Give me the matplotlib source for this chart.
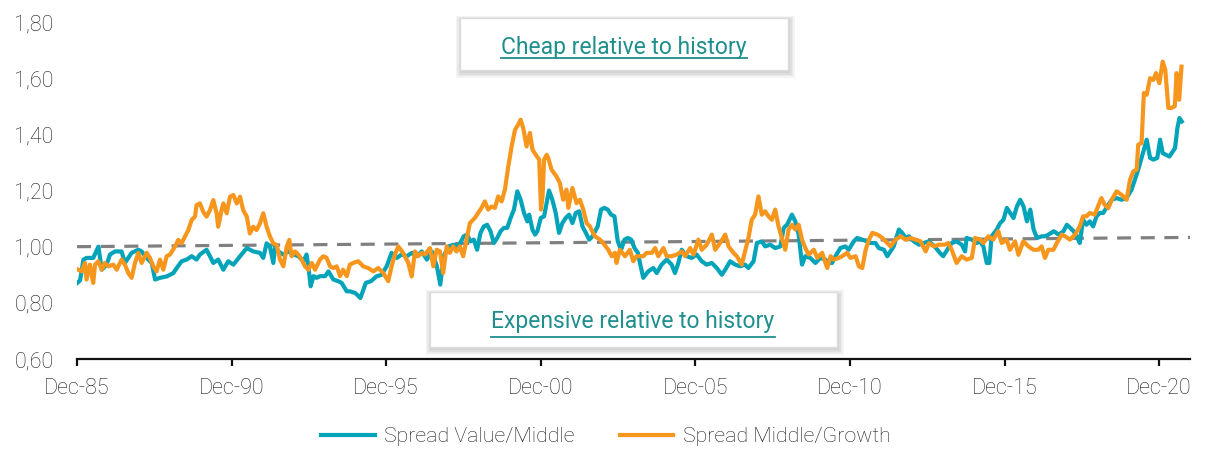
import matplotlib
matplotlib.use("Agg")
import matplotlib.pyplot as plt
from matplotlib.patches import Rectangle
from matplotlib.lines import Line2D
from matplotlib import font_manager

# ---------------- data (months since Dec-85, ratio values) ----------------
value_middle_month = [
    0, 1.2, 2.5, 3.7, 6.3, 8.3, 9.6, 11.5, 12.8, 14.7, 17.3, 18.6, 19.9, 21.2, 23.8, 25.1, 27, 29, 30.3, 32.2,
    34.8, 37.4, 38.7, 40.6, 42.6, 44.5, 46.4, 47.7, 50.3, 51.6, 52.9, 54.8, 56.8, 58.7, 60.7, 63.3, 65.9, 68.4, 71,
    72.3, 73.6, 74.9, 76.2, 76.9, 78.1, 80.1, 82, 84, 85.9, 87.9, 89.1, 89.8, 90.7, 91.8, 93, 94.3, 96.3, 97.6,
    99.5, 101.4, 102.7, 104.7,
    105.9, 108, 110, 112.1, 114.1, 116.2, 118.2, 120.2, 122.1, 124.1, 126, 128, 130, 131.9, 133.8, 135.8, 137.7,
    139.7, 141, 142.3, 144.2, 146.2, 148.1, 150.1, 151.4, 152.7, 154, 155.3, 156.6, 157.9, 159.2, 160.5, 161.8,
    163.1, 164.4, 165.7, 167, 168.3, 169.6, 170.9, 172.2, 173.5, 174.8, 175.5, 176.8, 177.8, 178.7, 180, 181.3,
    183.2, 184.5, 185.8, 187.1, 188.4, 189.7, 191, 192.3, 193.6, 194.9, 196.2, 197.5, 198.8, 200.1, 202.1, 203.4,
    204.7, 206, 207.3, 208.6, 209.9, 211.2, 212.5, 213.8, 215.1, 216.4, 217.7,
    218.5, 219.8, 221.7, 223.7, 225, 226.9, 228.9, 230.8, 232.1, 233.4, 234.7, 236.6, 238.6, 240.5, 242.5, 244.4,
    246.4, 248.3, 250.3, 251.6, 253.5, 255.5, 257.4, 259.3, 260.6, 262.6, 263.9, 265.8, 267.1, 269.1, 271, 273,
    274.3, 275.6, 277.5, 278.8, 280.1, 281.4, 282.7, 284.6, 286.6, 288.5, 290.5, 291.8, 293.1, 294.4, 296.3, 298.2,
    299.5, 301.5, 302.8, 304.7, 306.7, 308, 309.9, 311.2, 313.2, 314.5, 315.7, 317, 319, 320.3, 321.6, 322.9,
    324.8, 326.8, 328.7, 330.6,
    332.9, 334.9, 336.2, 338.2, 339.5, 341.4, 343.4, 344.7, 345.3, 347.3, 349.2, 350.5, 351.8, 353.1, 354.1, 355,
    357, 358.3, 359.6, 360.9, 362.2, 363.5, 364.8, 366.1, 367.4, 368.7, 370, 371.3, 372.6, 374.5, 375.8, 377.1,
    379.1, 381, 382.9, 384.2, 385.5, 386.8, 388.1, 389.2,
    390.5, 391.8, 393.1, 394.4, 395.7, 397, 398.3, 400.3, 401.6, 403.5, 405.4, 407.4, 409.3, 410.6, 411.9, 413.9,
    415.2, 416.5, 417.8, 419.3, 420.4, 421.4, 422.7, 424, 425.3, 426.2, 427.1, 427.9, 428.8,
]
value_middle = [
    0.87, 0.88, 0.954, 0.96, 0.96, 1.0, 0.918, 0.936, 0.972, 0.983, 0.983, 0.942, 0.96, 0.978, 0.989, 0.983, 0.96,
    0.942, 0.883, 0.889, 0.894, 0.906, 0.924, 0.948, 0.954, 0.966, 0.954, 0.972, 0.989, 0.966, 0.942, 0.954, 0.918,
    0.948, 0.936, 0.966, 0.995, 0.983, 0.978,
    0.96, 1.012, 1.0, 0.942, 1.0, 0.983, 0.972, 0.983, 0.972, 0.966, 0.948, 0.972, 0.93, 0.859, 0.895, 0.889,
    0.895, 0.895, 0.912, 0.883, 0.877, 0.871, 0.841,
    0.841, 0.835, 0.817, 0.871, 0.877, 0.894, 0.9, 0.93, 0.978, 0.96, 0.972, 0.966, 0.978, 0.966, 0.983, 0.954,
    0.983, 0.93, 0.865, 0.966, 1.001, 1.007, 1.001, 1.037, 1.043, 1.019, 1.025, 0.989, 1.049, 1.072, 1.078, 1.055,
    1.013, 1.031, 1.055, 1.067, 1.067, 1.102, 1.132, 1.197, 1.167, 1.12, 1.09, 1.114, 1.06, 1.043, 1.055, 1.102,
    1.108, 1.2, 1.167, 1.12, 1.049, 1.084, 1.102, 1.114, 1.084, 1.12, 1.126, 1.072, 1.049, 1.025, 1.037, 1.072,
    1.132, 1.138, 1.132, 1.114, 1.108, 1.019, 0.989, 1.025, 1.031, 1.025, 0.995, 0.978,
    0.942, 0.889, 0.912, 0.924, 0.906, 0.936, 0.954, 0.936, 0.906, 0.942, 0.989, 0.966, 0.96, 0.972, 0.948, 0.936,
    0.942, 0.924, 0.9, 0.918, 0.948, 0.936, 0.93, 0.936, 0.924, 0.948, 1.013, 1.019, 1.001, 1.007, 0.995, 1.001,
    1.067, 1.078, 1.114, 1.09, 1.043, 0.936, 0.966, 0.96, 0.942, 0.96, 0.954, 0.942, 0.942, 0.966, 0.995, 1.001,
    0.989, 1.019, 1.031, 1.025, 1.019, 1.013, 1.013, 0.995, 0.989, 0.966, 0.983, 1.001, 1.061, 1.049, 1.031, 1.037,
    1.019, 1.007, 1.013, 1.019,
    1.001, 0.978, 0.966, 0.995, 1.013, 1.019, 1.007, 0.983, 1.031, 1.025, 1.013, 1.019, 1.001, 0.942, 0.942, 1.037,
    1.061, 1.084, 1.096, 1.138, 1.12, 1.102, 1.143, 1.167, 1.143, 1.09, 1.132, 1.061, 1.031, 1.037, 1.037, 1.043,
    1.055, 1.043, 1.055, 1.078, 1.067, 1.055, 1.037, 1.013,
    1.096, 1.078, 1.09, 1.072, 1.108, 1.12, 1.12, 1.149, 1.167, 1.173, 1.167, 1.173, 1.203, 1.238, 1.274, 1.339,
    1.381, 1.316, 1.31, 1.316, 1.381, 1.333, 1.327, 1.321, 1.339, 1.351, 1.422, 1.458, 1.446,
]

middle_growth_month = [
    0.5, 1.8, 3.1, 3.7, 5, 6.3, 7, 8.3, 9.6, 10.8, 12.2, 14.1, 15.4, 17.3, 18.6, 19.9, 21.2, 22.5, 23.8, 25.1, 27,
    28.3, 29.6, 30.9, 32.2, 33.5, 34.8, 36.1, 38, 39.3, 40.6, 41.9, 43.2, 44.5, 45.8, 46.4, 47.7, 49, 50.3, 51.6,
    52.9, 54.2, 54.8, 56.1, 56.8, 58.1, 59.4, 60.7, 62, 63.3, 64.5, 65.9, 67.1, 68.4, 69.7, 71,
    72.3, 73.6, 74.9, 76.2, 77.5, 78.8, 80.1, 81.4, 82.4, 83.3, 84.6, 85.9, 87.2, 88.5, 89.8, 91.1, 92.4, 94.3,
    95.6, 96.9, 98.2, 99.5, 100.8, 102.1, 103.3, 104.7,
    105.9, 107.2, 109.2, 111.1, 113, 115, 116.9, 118.9, 120.8, 122.1, 123.4, 124.7, 126.6, 128.6, 129.9, 131.2,
    132.4, 133.8, 135, 137, 138.3, 139.6, 140.9,
    142.1, 143.5, 144.7, 146, 147.3, 148.6, 149.9, 151.2, 152.5, 154.4, 155.7, 157, 158.3, 159.6, 160.9, 162.2,
    163.5, 164.8, 166.1, 167.4, 168.7, 170, 171.2, 172.2, 173.2, 174.5, 175.8, 176.8, 178.1, 179.4, 180.1, 180.7,
    181.3, 182.3, 182.9, 184.2, 186.1, 187.4, 188.7, 190, 190.7, 192.3, 193.9, 195.2, 196.5, 197.8, 199.1, 201,
    203, 204.2, 206.2, 207.5, 208.8, 209.4, 210.7, 212.7, 214.6, 215.9, 217.2,
    219.8, 221.1, 223.1, 224.4, 225.6, 227.6, 228.9, 230.8, 232.8, 234.7, 236, 238, 239.3, 241.2, 242.5, 244.4,
    246.4, 247.7, 249.6, 251.6, 252.9, 254.8, 256.1, 258, 259.3, 260.6, 261.9, 263.2, 264.5, 265.8, 267.1, 268.4,
    269.7, 271, 272.3, 273.6, 274.9, 276.2, 277.5, 278.8, 280.1, 281.4, 282.7, 284, 286, 287.3, 289.2, 291.2,
    292.5, 293.8, 295.7, 297, 298.9, 300.2, 302.2, 303.5, 304.8, 306.1, 307.4, 308.7, 310.7, 312.6, 314.5, 315.8,
    317.7, 319.7, 321.6, 323.5, 325.5, 327.4, 329.4, 330.7, 332.6, 334.5,
    336.8, 338.2, 339.5, 341.4, 343.4, 345.3, 347.3, 348.6, 350.5, 351.8, 353.7, 355.6, 357.6, 358.9, 360.8, 362.1,
    364.1, 365.4, 367.3, 369.3, 371.2, 373.1, 374.4, 375.7, 377, 379, 380.3, 382.2, 383.5, 385.4, 387.4, 389.2,
    390.5, 391.8, 393.1, 395, 396.3, 397.6, 398.9, 400.3, 401.6, 403.5, 405.4, 407.4, 408.7, 410, 411.3, 411.9,
    413.2, 414.1, 415.2, 416.5, 417.8, 418.8, 420.1, 421.4, 422.4, 423.6, 424.8, 426.1, 426.8, 427.8, 428.7,
]
middle_growth = [
    0.918, 0.912, 0.942, 0.883, 0.936, 0.871, 0.936, 0.948, 0.918, 0.942, 0.93, 0.936, 0.918, 0.954, 0.936, 0.906,
    0.889, 0.942, 0.978, 0.942, 0.978, 0.96, 0.93, 0.912, 0.954, 0.918, 0.966, 0.972, 1.0, 1.024, 1.012, 1.036,
    1.059, 1.095, 1.107, 1.148, 1.154, 1.124, 1.107, 1.13, 1.166, 1.119, 1.071, 1.13, 1.154, 1.119, 1.178, 1.184,
    1.154, 1.178, 1.13, 1.107, 1.047, 1.071, 1.059, 1.083,
    1.119, 1.071, 1.036, 1.012, 1.006, 0.954, 0.93, 1.0, 1.024, 0.966, 0.983, 0.972, 0.954, 0.93, 0.918, 0.942,
    0.918, 0.954, 0.966, 0.96, 0.93, 0.924, 0.93, 0.895, 0.918, 0.895,
    0.936, 0.942, 0.948, 0.93, 0.924, 0.912, 0.924, 0.906, 0.877, 0.93, 0.972, 1.001, 0.978, 0.942, 0.894, 0.983,
    0.966, 0.978, 0.972, 0.995, 0.93, 0.989, 0.983,
    0.906, 1.001, 0.978, 1.001, 0.983, 1.001, 0.966, 1.025, 1.084, 1.102, 1.12, 1.138, 1.161, 1.132, 1.143, 1.138,
    1.179, 1.161, 1.203, 1.286, 1.357, 1.416, 1.434, 1.452, 1.422, 1.357, 1.405, 1.345, 1.327, 1.31, 1.132, 1.179,
    1.31, 1.327, 1.316, 1.274, 1.25, 1.227, 1.167, 1.203, 1.138, 1.209, 1.155, 1.167, 1.132, 1.084, 1.072, 1.037,
    1.025, 1.013, 0.989, 0.966, 0.978, 0.942, 0.989, 0.966, 0.989, 0.948, 0.966,
    0.966, 0.978, 0.978, 0.995, 0.966, 0.995, 0.966, 0.966, 0.972, 0.983, 0.966, 0.995, 0.972, 1.025, 0.989, 1.007,
    1.043, 0.989, 1.013, 1.043, 1.001, 0.978, 0.966, 0.936, 0.983, 1.031, 1.096, 1.114, 1.179, 1.114, 1.126, 1.108,
    1.096, 1.132, 1.072, 1.031, 0.989, 1.061, 1.078, 1.061, 1.078, 1.025, 0.995, 0.972, 0.989, 0.96, 0.978, 0.924,
    0.966, 0.954, 0.96, 0.966, 0.978, 0.96, 0.966, 0.93, 0.924, 0.989, 1.025, 1.049, 1.043, 1.031, 1.013, 1.001,
    1.025, 1.037, 1.025, 1.031, 1.025, 1.019, 0.983, 1.013, 1.001, 1.007,
    1.007, 1.013, 0.989, 0.942, 0.966, 0.954, 0.96, 1.031, 1.025, 1.013, 1.037, 1.025, 1.055, 1.013, 1.025, 0.989,
    1.019, 0.971, 1.019, 1.001, 0.989, 0.989, 1.001, 0.96, 0.989, 0.989, 1.013, 1.043, 1.037, 1.025, 1.043, 1.072,
    1.108, 1.108, 1.12, 1.114, 1.143, 1.173, 1.149, 1.137, 1.167, 1.197, 1.185, 1.167, 1.238, 1.268, 1.274, 1.363,
    1.369, 1.547, 1.541, 1.6, 1.594, 1.618, 1.582, 1.659, 1.63, 1.494, 1.494, 1.5, 1.618, 1.523, 1.641,
]

trend_month = [0, 432]
trend_value = [1.00, 1.033]

tick_months = [0, 60, 120, 180, 240, 300, 360, 420]
tick_labels = ["Dec-85", "Dec-90", "Dec-95", "Dec-00", "Dec-05", "Dec-10", "Dec-15", "Dec-20"]
y_ticks = [0.60, 0.80, 1.00, 1.20, 1.40, 1.60, 1.80]

series_names = ["Spread Value/Middle", "Spread Middle/Growth"]
note_top = "Cheap relative to history"
note_bottom = "Expensive relative to history"

# ---------------- style ----------------
TEAL = "#03A3BA"
ORANGE = "#F7961C"
NOTE = "#1F8F8D"
TXT = "#1e1e1e"

avail = {f.name for f in font_manager.fontManager.ttflist}
fam = [f for f in ["Liberation Sans Narrow", "Roboto", "DejaVu Sans"] if f in avail]
plt.rcParams["font.family"] = fam
plt.rcParams["font.weight"] = "light"

W, H = 1212, 450
fig = plt.figure(figsize=(W / 100, H / 100), dpi=100)
L, R, T, B = 77, 1190, 22, 359
ax = fig.add_axes([L / W, 1 - B / H, (R - L) / W, (B - T) / H])

ax.plot(trend_month, trend_value, color="#808080", lw=2.3, ls=(0, (4.4, 3.0)), zorder=2)
ax.plot(value_middle_month, value_middle, color=TEAL, lw=3.0, solid_joinstyle="round", zorder=3,
        label=series_names[0])
ax.plot(middle_growth_month, middle_growth, color=ORANGE, lw=3.0, solid_joinstyle="round", zorder=4,
        label=series_names[1])

ax.set_xlim(0, 432)
ax.set_ylim(0.6, 1.8)
ax.set_yticks(y_ticks)
ax.set_yticklabels([f"{v:.2f}".replace(".", ",") for v in y_ticks])
ax.set_xticks(tick_months)
ax.set_xticklabels(tick_labels)
for s in ["left", "right", "top"]:
    ax.spines[s].set_visible(False)
ax.spines["bottom"].set_linewidth(1.6)
ax.spines["bottom"].set_color("#111111")
ax.tick_params(axis="y", length=0, pad=17, labelsize=15.5, labelcolor=TXT)
ax.tick_params(axis="x", length=5, width=1.6, color="#111111", pad=9, labelsize=15.5, labelcolor=TXT)

leg = fig.legend(loc="center", bbox_to_anchor=(606 / W, 1 - 437 / H), ncol=2, frameon=False,
                 fontsize=15.4, handlelength=2.5, handletextpad=0.45, columnspacing=2.1,
                 labelcolor=TXT)
for h in leg.legend_handles:
    h.set_linewidth(3.0)


def px_rect(x0, y0, x1, y1, **kw):
    return Rectangle((x0 / W, 1 - y1 / H), (x1 - x0) / W, (y1 - y0) / H, transform=fig.transFigure, **kw)


def note_box(x0, y0, x1, y1, text, tx, ty, uy):
    for i in range(4):
        d = 1 + i * 1.5
        fig.add_artist(px_rect(x0 - d + 1, y0 - d + 3, x1 + d + 1, y1 + d + 2, facecolor="#000000",
                               edgecolor="none", alpha=0.045, zorder=5))
    fig.add_artist(px_rect(x0, y0, x1, y1, facecolor="white", edgecolor="#dcdcdc", lw=1.0, zorder=6))
    t = fig.text(tx / W, 1 - ty / H, text, ha="center", va="baseline", fontsize=16.5, color=NOTE,
                 fontweight="normal", zorder=7)
    fig.canvas.draw()
    bb = t.get_window_extent()
    fig.add_artist(Line2D([bb.x0 / W, bb.x1 / W], [1 - uy / H, 1 - uy / H], transform=fig.transFigure,
                          color=NOTE, lw=1.3, zorder=7))


note_box(460, 18, 788, 70, note_top, 624, 54, 57.5)
note_box(430, 292, 837, 347, note_bottom, 633, 328, 336.5)

fig.savefig("out.png", dpi=100)
